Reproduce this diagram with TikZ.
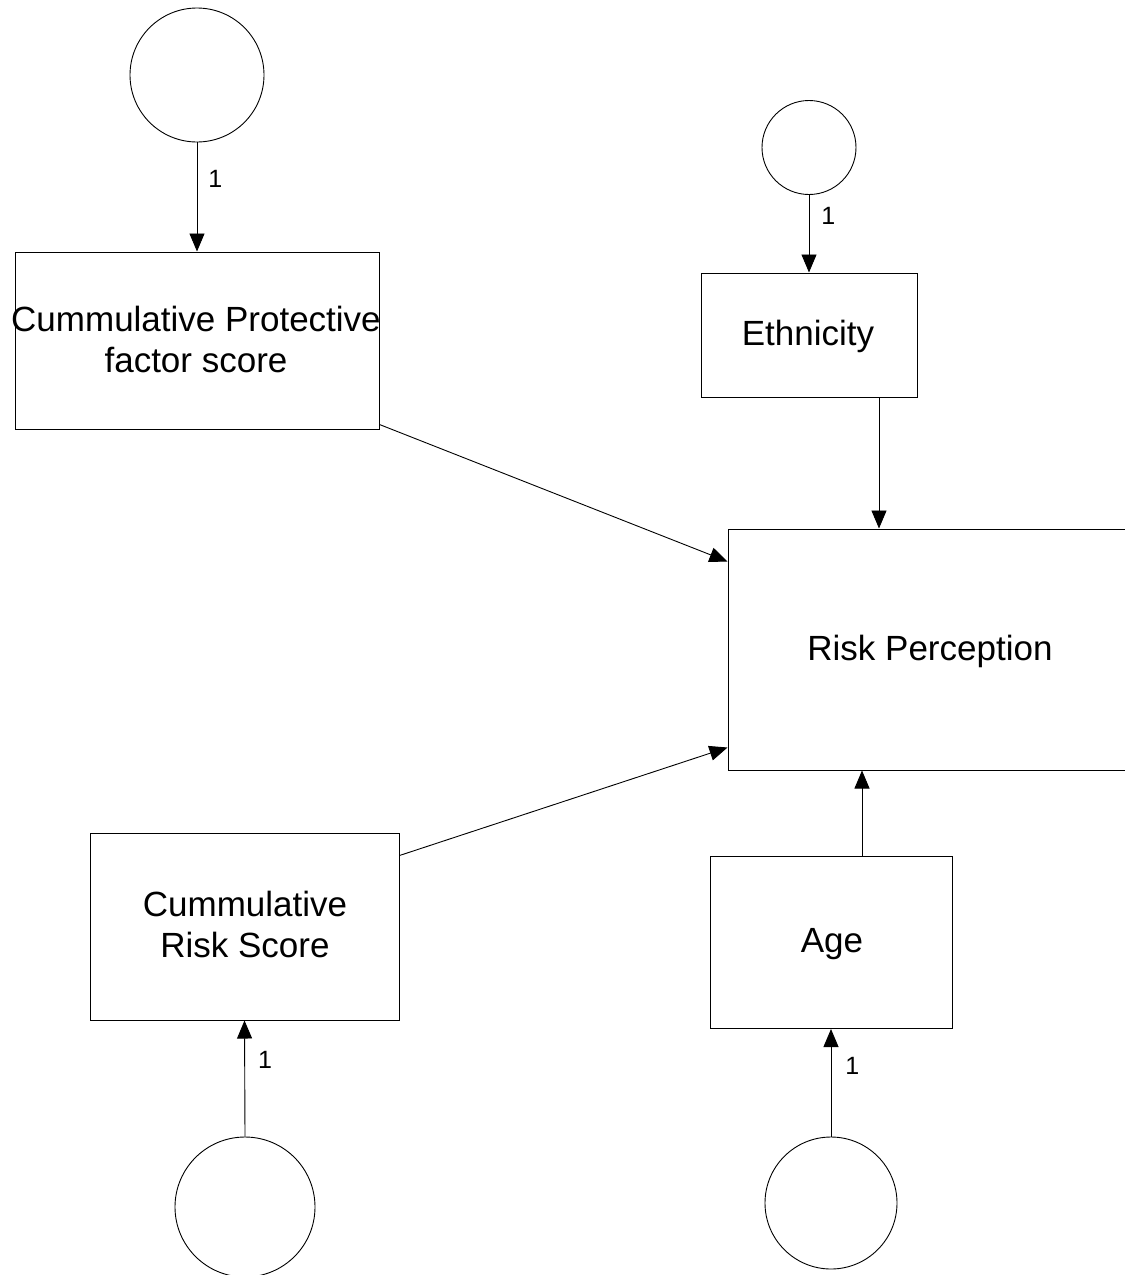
\documentclass[tikz,border=0pt]{standalone}
\usepackage{fontspec}
\setmainfont{Liberation Sans}
\usetikzlibrary{arrows.meta,calc}
\begin{document}
\begin{tikzpicture}[x=1pt,y=-1pt,
  boxnode/.style={draw, line width=1pt, rectangle, inner sep=0pt},
  latent/.style={draw, line width=0.9pt, circle, inner sep=0pt},
  txt/.style={font=\fontsize{35}{41}\selectfont, align=center, inner sep=0pt},
  lbl/.style={font=\fontsize{25}{28}\selectfont, inner sep=0pt, anchor=west},
  arr/.style={line width=0.9pt, -{Triangle[length=18pt,width=15pt]}}
]
\clip (0,0) rectangle (1125,1275);
\fill[white] (0,0) rectangle (1125,1275);
% latent circles
\node[latent, minimum size=134pt] (c1) at (197,75) {};
\node[latent, minimum size=94pt] (c2) at (809,147.5) {};
\node[latent, minimum size=140pt] (c3) at (245,1207) {};
\node[latent, minimum size=132pt] (c4) at (831,1203) {};
% boxes
\node[boxnode, minimum width=364pt, minimum height=177pt] (cpf) at (197,340.5) {};
\node[txt] (cpftext) at (196,339) {Cummulative Protective\\factor score};
\node[boxnode, minimum width=216pt, minimum height=124pt] (eth) at (809,335) {};
\node[txt] (ethtext) at (808,336) {Ethnicity};
\node[boxnode, minimum width=412pt, minimum height=241pt] (rp) at (934,649.5) {};
\node[txt] (rptext) at (930,651) {Risk Perception};
\node[boxnode, minimum width=309pt, minimum height=187pt] (crs) at (244.5,926.5) {};
\node[txt] (crstext) at (245,924) {Cummulative\\Risk Score};
\node[boxnode, minimum width=242pt, minimum height=172pt] (age) at (831,942.5) {};
\node[txt] (agetext) at (832,944) {Age};
% connectors
\draw[arr] (c1.south) -- node[lbl, pos=0.33, xshift=11pt] {1} (cpf.north);
\draw[arr] (c2.south) -- node[lbl, pos=0.27, xshift=12pt] {1} (eth.north);
\draw[arr] (c3.north) -- node[lbl, pos=0.66, xshift=13pt] {1} (crs.south);
\draw[arr] (c4.north) -- node[lbl, pos=0.66, xshift=14pt] {1} (age.south);
\draw[arr] ([xshift=70pt]eth.south) -- ([xshift=70pt]eth.south |- rp.north);
\draw[arr] ([xshift=31pt]age.north) -- ([xshift=31pt]age.north |- rp.south);
\draw[arr] ([yshift=5pt]cpf.south east) -- ([yshift=-33pt]rp.north west);
\draw[arr] ([yshift=-23pt]crs.north east) -- ([yshift=23pt]rp.south west);
\end{tikzpicture}
\end{document}
